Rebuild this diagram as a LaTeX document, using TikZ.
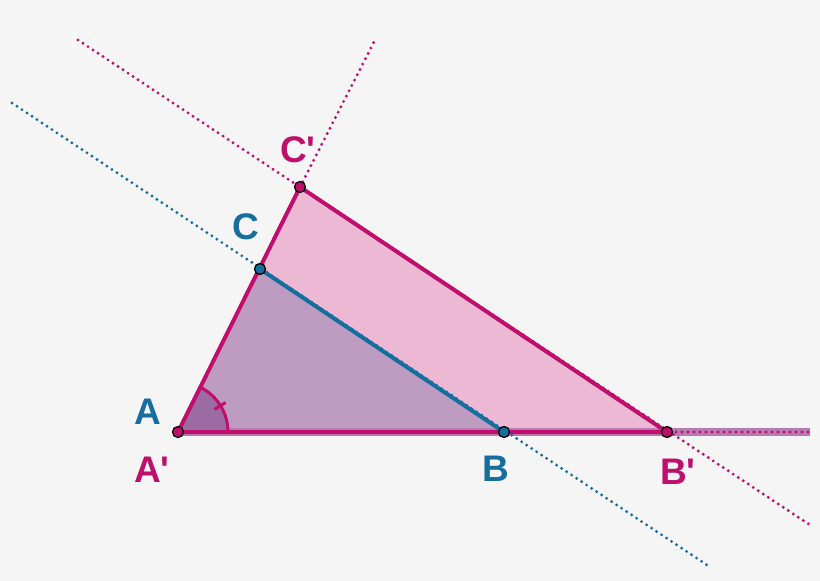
\documentclass[tikz,border=0pt]{standalone}
\usepackage{fontspec}
\setmainfont{Liberation Sans}[Ligatures=TeXOff]
\definecolor{bg}{HTML}{F5F5F5}
\definecolor{mag}{HTML}{BF0E6B}
\definecolor{blu}{HTML}{156E9D}
\definecolor{pinkfill}{HTML}{ECB8D3}
\definecolor{purpfill}{HTML}{BE9CC1}
\definecolor{anglefill}{HTML}{9C6BA4}
\definecolor{band}{HTML}{B77CB2}
\begin{document}
\begin{tikzpicture}[x=1pt,y=-1pt,
  dotline/.style={line width=3.2pt,line cap=round,dash pattern=on 0pt off 6pt},
  edge/.style={line width=4pt,line cap=round,line join=round},
  pt/.style={circle,draw=black,line width=1.3pt,minimum size=11pt,inner sep=0pt},
  lbl/.style={font=\fontsize{37}{37}\selectfont\bfseries,inner sep=0pt}]
\fill[bg] (0,0) rectangle (820,581);
\useasboundingbox (0,0) rectangle (820,581);
% points
\coordinate (A) at (178,432);
\coordinate (B) at (504,432);
\coordinate (C) at (260,269);
\coordinate (Cp) at (300,187);
\coordinate (Bp) at (667,432);
\coordinate (e1) at (78,40);
\coordinate (e2) at (810,525);
\coordinate (e3) at (12,103);
\coordinate (e4) at (710,567);
\coordinate (e5) at (375,40);
\coordinate (e6) at (810,432);
% fills
\fill[pinkfill] (A) -- (Bp) -- (Cp) -- cycle;
\fill[purpfill] (A) -- (B) -- (C) -- cycle;
% horizontal band
\draw[band,line width=8pt] (A) -- (e6);
% dotted lines
\draw[dotline,mag] (e1) -- (e2);
\draw[dotline,blu] (e3) -- (e4);
\draw[dotline,mag] (Cp) -- (e5);
\draw[dotline,mag] (A) -- (e6);
% angle
\fill[anglefill] (A) -- ++(50,0) arc[start angle=0,end angle=-63.5,radius=50] -- cycle;
\draw[mag,line width=3pt] (A) ++(50,0) arc[start angle=0,end angle=-63.5,radius=50];
\draw[mag,line width=3pt] (A) ++(-31.75:43) -- ++(-31.75:13);
% edges
\draw[edge,blu] (C) -- (B);
\draw[edge,mag] (A) -- (Bp) -- (Cp) -- cycle;
% point markers
\node[pt,fill=mag] (nA) at (A) {};
\node[pt,fill=blu] (nB) at (B) {};
\node[pt,fill=blu] (nC) at (C) {};
\node[pt,fill=mag] (nCp) at (Cp) {};
\node[pt,fill=mag] (nBp) at (Bp) {};
% labels
\node[lbl,blu] (lA) at (148,412) {A};
\node[lbl,mag] (lAp) at (152,470) {A'};
\node[lbl,blu] (lB) at (496,469) {B};
\node[lbl,mag] (lBp) at (678,472) {B'};
\node[lbl,blu] (lC) at (246,227) {C};
\node[lbl,mag] (lCp) at (298,150) {C'};
\end{tikzpicture}
\end{document}
